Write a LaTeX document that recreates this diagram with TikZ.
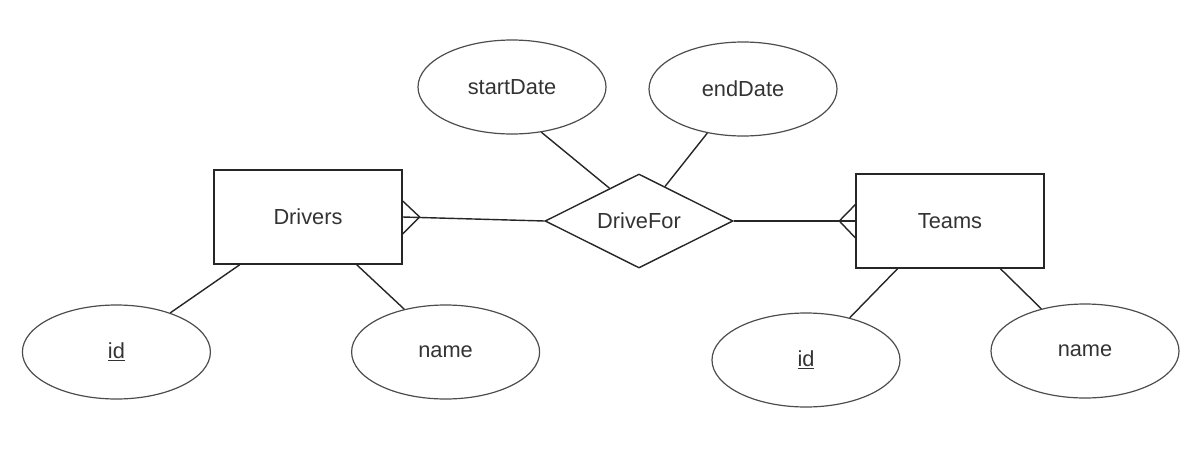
\documentclass[tikz,border=0pt]{standalone}
\usepackage{fontspec}
\setmainfont{Liberation Sans}
\usepackage{tikz}
\usetikzlibrary{shapes.geometric, positioning, calc}

\begin{document}
\begin{tikzpicture}[node distance=2cm,on grid,
    font=\fontsize{15.5}{18}\selectfont,
    entity/.style={draw=black!85, line width=1pt, text=black!80, minimum width=4.7cm, minimum height=2.35cm, inner sep=0pt},
    relation/.style={draw=black!85, line width=1pt, text=black!80, diamond, aspect=2, minimum width=4.7cm, minimum height=2.35cm, inner sep=0pt},
    attr/.style={draw=black!70, line width=0.85pt, text=black!80, ellipse, minimum width=4.7cm, minimum height=2.35cm, inner sep=0pt},
    link/.style={draw=black!85, line width=1pt}]
      \useasboundingbox (0,0) rectangle (29.9,-11.4);
      \node[relation] (drivefor) at (15.975,-5.525) {DriveFor};
      \node[entity] (drivers) [left=8.275cm of drivefor, yshift=0.1cm] {Drivers};
      \node[entity] (teams) [right=7.775cm of drivefor] {Teams};
        \node[attr] (startdate) [above left=3.35cm and 3.175cm of drivefor] {startDate};
        \node[attr] (enddate) [above right=3.3cm and 2.6cm of drivefor] {endDate};
        \node[attr] (driverid) [below left=3.375cm and 4.79cm of drivers] {\underline{id}};
        \node[attr] (drivername) [below right=3.375cm and 3.44cm of drivers] {name};
        \node[attr] (teamid) [below left=3.475cm and 3.6cm of teams] {\underline{id}};
        \node[attr] (teamname) [below right=3.25cm and 3.375cm of teams] {name};

      % relationship lines with crow's feet
      \draw[link] (drivers.east) -- (drivefor.west);
      \draw[link] (drivefor.east) -- (teams.west);
      \coordinate[right=0.425cm of drivers.east] (drivercrow);
      \coordinate[left=0.4cm of teams.west] (teamcrow);
      \draw[link] ([yshift=0.4cm]drivers.east) -- (drivercrow) -- ([yshift=-0.42cm]drivers.east);
      \draw[link] ([yshift=0.41cm]teams.west) -- (teamcrow) -- ([yshift=-0.42cm]teams.west);

      % attributes
      \draw[link] (startdate.-57) -- (drivefor.132);
      \draw[link] (enddate.231) -- (drivefor.53);
      \draw[link] ($(drivers.south west)!0.14!(drivers.south east)$) -- (driverid.36);
      \draw[link] ($(drivers.south west)!0.757!(drivers.south east)$) -- (drivername.134);
      \draw[link] ($(teams.south west)!0.223!(teams.south east)$) -- (teamid.44);
      \draw[link] ($(teams.south west)!0.766!(teams.south east)$) -- (teamname.136);
    \end{tikzpicture}
\end{document}
